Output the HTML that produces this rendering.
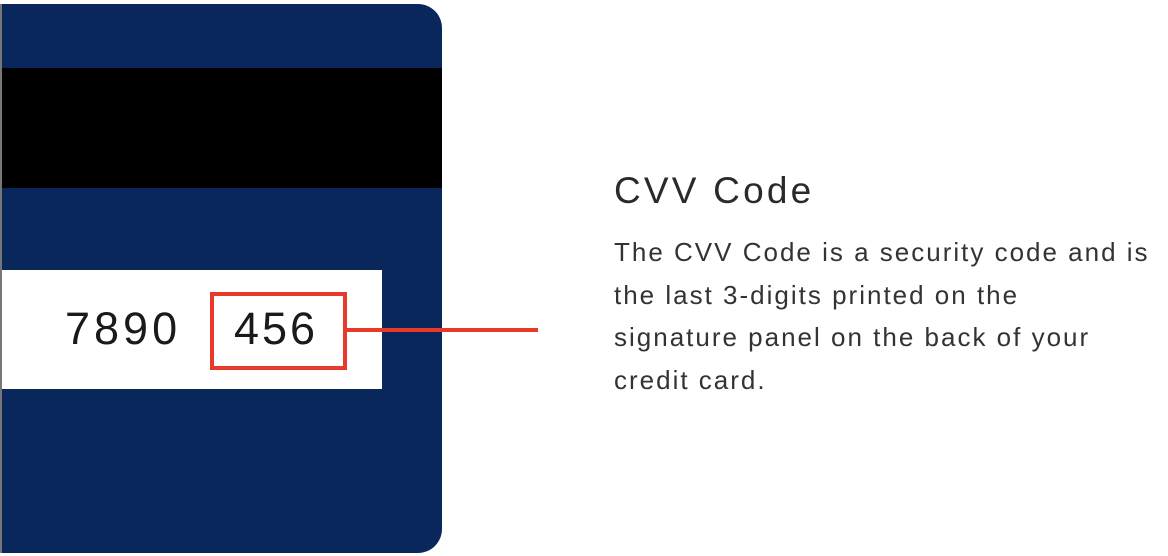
<!DOCTYPE html>
<html><head><style>
body{margin:0;width:1168px;height:556px;background:#fff;position:relative;overflow:hidden;font-family:"Liberation Sans",sans-serif}
.a{position:absolute;white-space:nowrap}
</style></head><body>
<div class="a" style="left:0;top:4px;width:442px;height:549px;background:#0a275c;border-radius:0 24px 24px 0"></div>
<div class="a" style="left:0;top:4px;width:2px;height:549px;background:#777"></div>
<div class="a" style="left:2px;top:68px;width:440px;height:120px;background:#000"></div>
<div class="a" style="left:2px;top:270px;width:380px;height:119px;background:#fff"></div>
<div class="a" style="left:65px;top:303px;font-size:45px;color:#1a1a1a;line-height:52px;letter-spacing:4px">7890</div>
<div class="a" style="left:210px;top:292px;width:129px;height:70px;border:4px solid #e8392b"></div>
<div class="a" style="left:234px;top:303px;font-size:45px;color:#1a1a1a;line-height:52px;letter-spacing:3px">456</div>
<div class="a" style="left:347px;top:328px;width:191px;height:4px;background:#e8392b"></div>
<div class="a" style="left:614px;top:169px;font-size:37px;color:#2a2a2a;line-height:44px;letter-spacing:3.2px">CVV Code</div>
<div class="a" style="left:614px;top:231px;font-size:26px;color:#333;line-height:42.5px;letter-spacing:2px">The CVV Code is a security code and is<br>the last 3-digits printed on the<br>signature panel on the back of your<br>credit card.</div>
</body></html>
